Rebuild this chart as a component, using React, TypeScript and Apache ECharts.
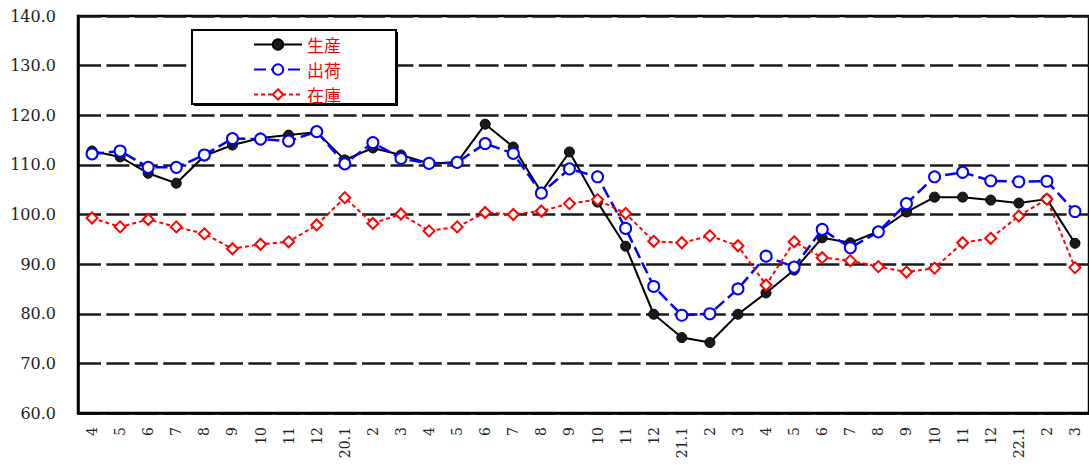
import React, { useEffect, useRef } from "react";
import * as echarts from "echarts";

const categories = [
  "4", "5", "6", "7", "8", "9", "10", "11", "12",
  "20.1", "2", "3", "4", "5", "6", "7", "8", "9", "10", "11", "12",
  "21.1", "2", "3", "4", "5", "6", "7", "8", "9", "10", "11", "12",
  "22.1", "2", "3",
];

const production = [
  112.8, 111.6, 108.3, 106.3, 111.8, 114.0, 115.4, 116.0, 116.6,
  111.0, 113.4, 112.0, 110.3, 110.5, 118.2, 113.6, 104.5, 112.6, 102.5, 93.6, 79.9,
  75.2, 74.2, 79.9, 84.2, 88.8, 95.3, 94.3, 96.6, 100.5, 103.5, 103.5, 102.9,
  102.3, 103.1, 94.2,
];

const shipments = [
  112.2, 112.8, 109.5, 109.5, 112.0, 115.3, 115.2, 114.8, 116.7,
  110.2, 114.5, 111.3, 110.3, 110.5, 114.3, 112.3, 104.3, 109.2, 107.6, 97.2, 85.5,
  79.7, 80.0, 85.0, 91.6, 89.4, 97.0, 93.3, 96.5, 102.2, 107.6, 108.5, 106.8,
  106.6, 106.7, 100.6,
];

const inventory = [
  99.3, 97.5, 99.0, 97.5, 96.1, 93.1, 94.0, 94.5, 97.9,
  103.4, 98.2, 100.1, 96.7, 97.5, 100.4, 100.0, 100.7, 102.2, 103.0, 100.2, 94.6,
  94.3, 95.7, 93.7, 85.8, 94.5, 91.3, 90.7, 89.5, 88.4, 89.2, 94.3, 95.2,
  99.7, 103.1, 89.3,
];

const seriesNames = ["生産", "出荷", "在庫"];

export default function App() {
  const ref = useRef<HTMLDivElement>(null);

  useEffect(() => {
    if (!ref.current) return;
    const chart = echarts.init(ref.current, undefined, { renderer: "svg" });
    const serif = "'DejaVu Serif', 'Liberation Serif', serif";
    chart.setOption({
      animation: false,
      backgroundColor: "#ffffff",
      grid: {
        left: 78,
        top: 16,
        bottom: 53,
        right: -9,
        show: true,
        borderColor: "#000",
        borderWidth: 2.5,
      },
      legend: {
        orient: "vertical",
        left: 248,
        top: 31,
        itemWidth: 48,
        itemHeight: 13,
        itemGap: 8,
        z: 20,
        data: seriesNames,
        textStyle: {
          color: "#ff0000",
          fontSize: 17,
          lineHeight: 16,
          fontFamily: "'Noto Sans CJK JP', sans-serif",
        },
      },
      graphic: [
        {
          type: "rect",
          z: 10,
          shape: { x: 194, y: 32, width: 204, height: 74 },
          style: { fill: "#000" },
        },
        {
          type: "rect",
          z: 11,
          shape: { x: 192, y: 30, width: 204, height: 74 },
          style: { fill: "#fff", stroke: "#000", lineWidth: 2 },
        },
      ],
      xAxis: {
        type: "category",
        data: categories,
        boundaryGap: true,
        axisLine: { show: true, lineStyle: { color: "#000", width: 2.5 } },
        axisTick: { show: false },
        axisLabel: {
          rotate: 90,
          interval: 0,
          margin: 14,
          fontFamily: serif,
          fontSize: 14,
          color: "#222",
        },
      },
      yAxis: {
        type: "value",
        min: 60,
        max: 140,
        interval: 10,
        axisLine: { show: true, lineStyle: { color: "#000", width: 2.5 } },
        axisTick: { show: false },
        axisLabel: {
          formatter: (v: number) => v.toFixed(1),
          margin: 22,
          fontFamily: serif,
          fontSize: 16,
          color: "#222",
        },
        splitLine: {
          show: true,
          lineStyle: { color: "#1a1a1a", width: 2.5, type: [23, 5.4] },
        },
      },
      series: [
        {
          name: seriesNames[0],
          type: "line",
          data: production,
          symbol: "circle",
          symbolSize: 10,
          lineStyle: { color: "#000", width: 2 },
          itemStyle: { color: "#1a1a1a", borderColor: "#000", borderWidth: 1 },
          z: 3,
        },
        {
          name: seriesNames[1],
          type: "line",
          data: shipments,
          symbol: "emptyCircle",
          symbolSize: 11,
          lineStyle: { color: "#0000ff", width: 2.5, type: [12, 5] },
          itemStyle: { color: "#0000ff", borderColor: "#0000ff", borderWidth: 2 },
          z: 4,
        },
        {
          name: seriesNames[2],
          type: "line",
          data: inventory,
          symbol: "emptyDiamond",
          symbolSize: 11,
          lineStyle: { color: "#ff0000", width: 2, type: [4, 3] },
          itemStyle: { color: "#ff0000", borderColor: "#ff0000", borderWidth: 2 },
          z: 5,
        },
      ],
    });
    return () => chart.dispose();
  }, []);

  return (
    <div
      ref={ref}
      style={{ position: "absolute", left: 0, top: 0, width: 1089, height: 466 }}
    />
  );
}
